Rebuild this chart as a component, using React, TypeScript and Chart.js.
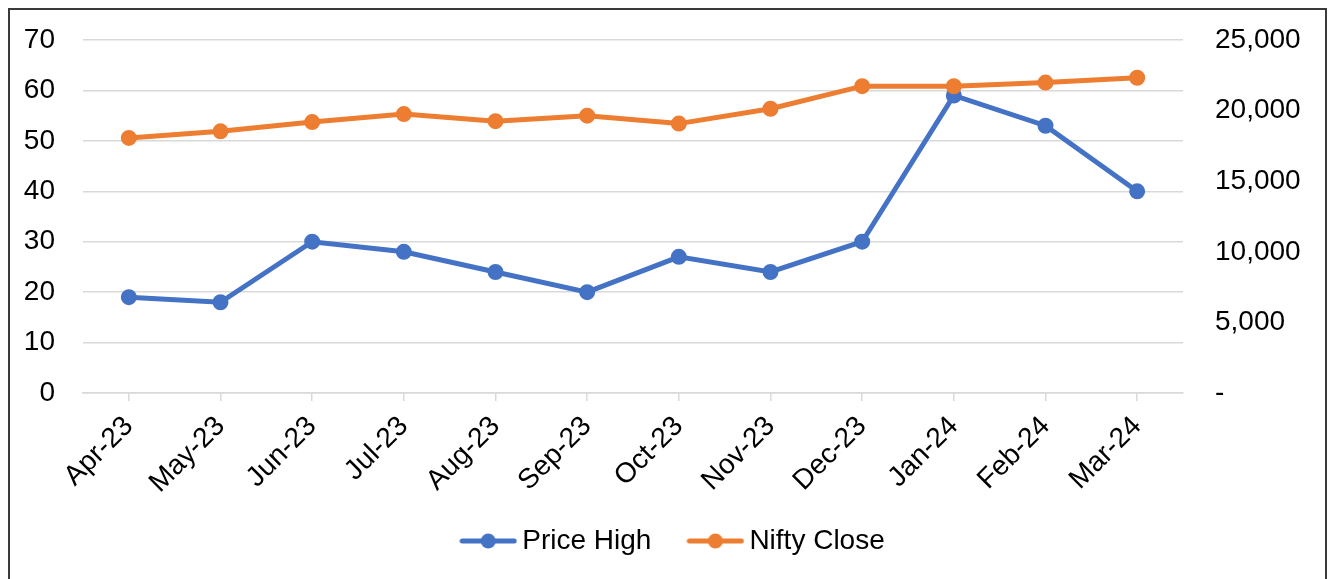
import React, { useEffect, useRef } from "react";
import { Chart, registerables } from "chart.js";

Chart.register(...registerables);

const categories = ["Apr-23", "May-23", "Jun-23", "Jul-23", "Aug-23", "Sep-23", "Oct-23", "Nov-23", "Dec-23", "Jan-24", "Feb-24", "Mar-24"];
const priceHigh = [19, 18, 30, 28, 24, 20, 27, 24, 30, 59, 53, 40];
const niftyClose = [18065, 18534, 19189, 19754, 19254, 19638, 19079, 20133, 21731, 21726, 21983, 22327];
const seriesNames = ["Price High", "Nifty Close"];
const seriesColors = ["#4472C4", "#ED7D31"];
const leftTicks = { min: 0, max: 70, step: 10 };
const rightTicks = { min: 0, max: 25000, step: 5000 };

const FONT = "'Liberation Sans', Arial, sans-serif";

function makeMarker(color: string): HTMLCanvasElement {
  const c = document.createElement("canvas");
  c.width = 58;
  c.height = 16;
  const ctx = c.getContext("2d")!;
  ctx.strokeStyle = color;
  ctx.lineWidth = 5;
  ctx.lineCap = "round";
  ctx.beginPath();
  ctx.moveTo(3, 8);
  ctx.lineTo(55, 8);
  ctx.stroke();
  ctx.fillStyle = color;
  ctx.beginPath();
  ctx.arc(29, 8, 7.5, 0, Math.PI * 2);
  ctx.fill();
  return c;
}

const noVPad = (s: any) => {
  s.paddingTop = 0;
  s.paddingBottom = 0;
};

export default function App() {
  const ref = useRef<HTMLCanvasElement | null>(null);

  useEffect(() => {
    document.body.style.overflow = "hidden";
    const markers = seriesColors.map(makeMarker);
    const chart = new Chart(ref.current!, {
      type: "line",
      data: {
        labels: categories,
        datasets: [
          {
            label: seriesNames[0],
            data: priceHigh,
            yAxisID: "y",
            borderColor: seriesColors[0],
            backgroundColor: seriesColors[0],
            borderWidth: 5,
            pointRadius: 7,
            pointBorderWidth: 2,
            pointBorderColor: seriesColors[0],
            pointBackgroundColor: seriesColors[0],
            order: 1,
          },
          {
            label: seriesNames[1],
            data: niftyClose,
            yAxisID: "y1",
            borderColor: seriesColors[1],
            backgroundColor: seriesColors[1],
            borderWidth: 5,
            pointRadius: 7,
            pointBorderWidth: 2,
            pointBorderColor: seriesColors[1],
            pointBackgroundColor: seriesColors[1],
            order: 0,
          },
        ],
      },
      options: {
        responsive: false,
        animation: false,
        layout: { padding: { top: 30, left: 0, right: -18, bottom: 14 } },
        plugins: {
          tooltip: { enabled: false },
          legend: {
            position: "bottom",
            labels: {
              usePointStyle: true,
              pointStyleWidth: 40,
              padding: 44,
              color: "#000",
              font: { family: FONT, size: 28 },
              generateLabels: (ch: any) =>
                ch.data.datasets.map((ds: any, i: number) => ({
                  text: ds.label,
                  pointStyle: markers[i],
                  fillStyle: seriesColors[i],
                  strokeStyle: seriesColors[i],
                  lineWidth: 0,
                  hidden: false,
                  datasetIndex: i,
                  fontColor: "#000",
                })),
            },
          },
        },
        scales: {
          x: {
            offset: true,
            grid: {
              drawOnChartArea: false,
              drawTicks: true,
              tickLength: 8,
              color: "#D9D9D9",
              lineWidth: 1.5,
            },
            border: { display: true, color: "#D9D9D9", width: 1.5 },
            ticks: {
              color: "#000",
              font: { family: FONT, size: 28 },
              minRotation: 45,
              maxRotation: 45,
              padding: 9,
              autoSkip: false,
            },
            afterFit: (s: any) => {
              s.height = 90;
              s._computeLabelArea = () => undefined;
            },
          },
          y: {
            position: "left",
            min: leftTicks.min,
            max: leftTicks.max,
            grid: { color: "#D9D9D9", lineWidth: 1.5, drawTicks: false },
            border: { display: false },
            ticks: {
              stepSize: leftTicks.step,
              color: "#000",
              padding: 28,
              font: { family: FONT, size: 28 },
            },
            afterFit: (s: any) => {
              s.width = 73;
              noVPad(s);
            },
          },
          y1: {
            position: "right",
            min: rightTicks.min,
            max: rightTicks.max,
            grid: { drawOnChartArea: false, drawTicks: false },
            border: { display: false },
            ticks: {
              stepSize: rightTicks.step,
              color: "#000",
              padding: 32,
              font: { family: FONT, size: 28 },
              callback: (v: any) => (Number(v) === 0 ? "-" : Number(v).toLocaleString("en-US")),
            },
            afterFit: (s: any) => {
              s.width = 160;
              noVPad(s);
            },
          },
        },
      },
    });
    return () => chart.destroy();
  }, []);

  return (
    <div
      style={{
        width: 1319,
        height: 571,
        boxSizing: "border-box",
        border: "2px solid #3a3a3a",
        borderBottom: "none",
        background: "#fff",
        overflow: "hidden",
      }}
    >
      <canvas ref={ref} width={1315} height={569} style={{ display: "block" }} />
    </div>
  );
}
